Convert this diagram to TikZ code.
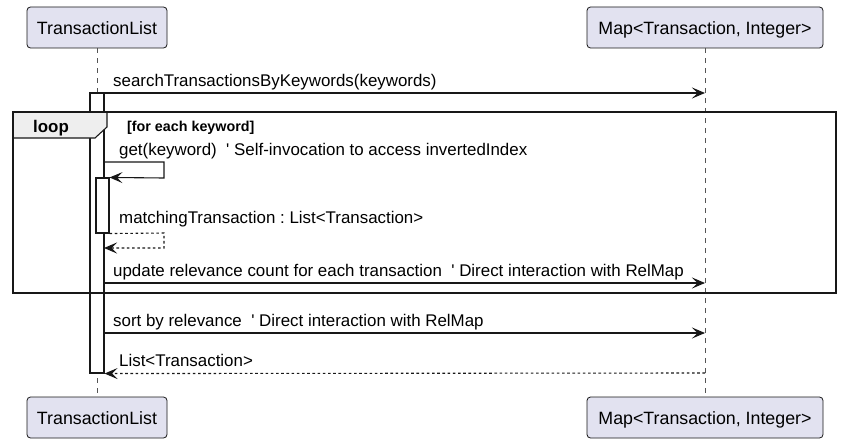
\documentclass[tikz,border=0pt]{standalone}
\usepackage{fontspec}
\setmainfont{Liberation Sans}
\usetikzlibrary{arrows.meta}
\definecolor{partfill}{HTML}{E2E2F0}
\definecolor{linec}{HTML}{181818}
\definecolor{tabfill}{HTML}{EEEEEE}
\definecolor{lifec}{HTML}{555555}
\newcommand{\pfont}{\fontsize{17.8}{20}\selectfont}
\newcommand{\mfont}{\fontsize{16.9}{19}\selectfont}
\newcommand{\sq}{\textquotesingle}
\frenchspacing
\begin{document}
\begin{tikzpicture}[x=1pt,y=-1pt,
  part/.style={draw=linec, fill=partfill, rounded corners=3.5pt, line width=0.8pt,
    minimum height=41pt, inner sep=0pt, text height=14pt, text depth=0pt, font=\pfont},
  lifeline/.style={draw=lifec, line width=0.7pt, dash pattern=on 5pt off 5pt},
  actbar/.style={draw=linec, fill=white, line width=1.1pt, inner sep=0pt},
  msg/.style={draw=linec, line width=1.1pt, -{Stealth[length=13pt, width=11pt, inset=5.5pt]}},
  ret/.style={msg, dash pattern=on 2.6pt off 2.6pt},
  mlabel/.style={anchor=base west, inner sep=0pt, font=\mfont, text=black},
  framec/.style={draw=linec, line width=2pt},
]
\useasboundingbox (0,0) rectangle (842,444);
\fill[white] (0,0) rectangle (842,444);

% participants
\node[part, minimum width=140pt] (tlTop) at (97,27.5) {TransactionList};
\node[part, minimum width=236pt] (mapTop) at (705,27.5) {Map<Transaction, Integer>};
\node[part, minimum width=140pt] (tlBot) at (97,417.5) {TransactionList};
\node[part, minimum width=236pt] (mapBot) at (705,417.5) {Map<Transaction, Integer>};

% lifelines
\draw[lifeline] (tlTop.south) -- (tlBot.north);
\draw[lifeline] (mapTop.south) -- (mapBot.north);

% activation bars
\node[actbar, minimum width=14pt, minimum height=280pt] (act1) at (97,233) {};
\node[actbar, minimum width=13pt, minimum height=55pt] (act2) at (102.5,205.5) {};

% loop frame
\node[inner sep=0pt, minimum width=823pt, minimum height=181pt] (loopf) at (424.5,202.5) {};
\draw[draw=linec, fill=tabfill, line width=1.1pt] (loopf.north west) -- (107,112) -- (107,127) -- (95,138) -- (13,138);
\draw[framec] (loopf.north west) rectangle (loopf.south east);
\node[anchor=base west, inner sep=0pt, font=\mfont\bfseries] (looplbl) at (33,132.7) {loop};
\node[anchor=base west, inner sep=0pt, font=\fontsize{14.3}{16}\selectfont\bfseries] (guard) at (127,131) {[for each keyword]};

% messages
\coordinate (m1) at (104,93);
\draw[msg] (m1) -- (m1 -| mapTop);
\node[mlabel] (l1) at (113,86) {searchTransactionsByKeywords(keywords)};

\coordinate (m2) at (104,162);
\coordinate (m2b) at (164,162);
\coordinate (m2c) at (164,178);
\draw[msg] (m2) -- (m2b) -- (m2c) -- (act2.north east);
\node[mlabel] (l2) at (119,155.5) {get(keyword)\ \ \sq{} Self-invocation to access invertedIndex};

\coordinate (m3b) at (164,233);
\coordinate (m3c) at (164,248);
\coordinate (m3d) at (104,248);
\draw[ret] (act2.south east) -- (m3b) -- (m3c) -- (m3d);
\node[mlabel] (l3) at (119,223) {matchingTransaction : List<Transaction>};

\coordinate (m4) at (104,283);
\draw[msg] (m4) -- (m4 -| mapTop);
\node[mlabel] (l4) at (113,276) {update relevance count for each transaction\ \ \sq{} Direct interaction with RelMap};

\coordinate (m5) at (104,333);
\draw[msg] (m5) -- (m5 -| mapTop);
\node[mlabel] (l5) at (113,326.5) {sort by relevance\ \ \sq{} Direct interaction with RelMap};

\coordinate (m6) at (705,373);
\draw[ret] (m6) -- (act1.south east);
\node[mlabel] (l6) at (119,366.5) {List<Transaction>};
\end{tikzpicture}
\end{document}
